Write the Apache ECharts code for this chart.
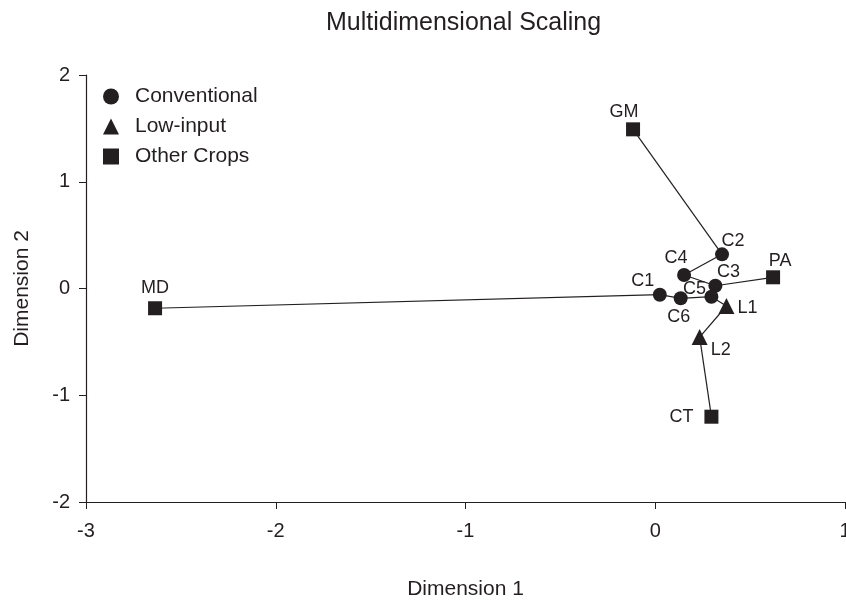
<!DOCTYPE html>
<html>
<head>
<meta charset="utf-8">
<script src="https://cdn.jsdelivr.net/npm/echarts@6/dist/echarts.min.js"></script>
<style>
  html, body { margin: 0; padding: 0; background: #fff; }
  #main { width: 846px; height: 602px; }
</style>
</head>
<body>
<div id="main"></div>
<script>
// point names, coordinates and group
var names  = ['GM', 'MD', 'PA', 'CT', 'C1', 'C2', 'C3', 'C4', 'C5', 'C6', 'L1', 'L2'];
var dim1   = [-0.117, -2.636, 0.621, 0.296, 0.024, 0.352, 0.317, 0.152, 0.296, 0.134, 0.375, 0.234];
var dim2   = [1.491, -0.185, 0.105, -1.201, -0.058, 0.320, 0.026, 0.126, -0.077, -0.092, -0.164, -0.455];
var groups = ['Other Crops', 'Other Crops', 'Other Crops', 'Other Crops',
              'Conventional', 'Conventional', 'Conventional', 'Conventional', 'Conventional', 'Conventional',
              'Low-input', 'Low-input'];
// links drawn between points
var edges = [['GM','C2'], ['C2','C4'], ['C4','C3'], ['C3','PA'], ['C3','C5'],
             ['MD','C1'], ['C1','C6'], ['C6','C5'], ['C5','L1'], ['L1','L2'], ['L2','CT']];
var groupNames = ['Conventional', 'Low-input', 'Other Crops'];
var xTicks = [-3, -2, -1, 0, 1];
var yTicks = [-2, -1, 0, 1, 2];

var ink = '#231f20';
var font = 'Liberation Sans, Arial, Helvetica, sans-serif';
var symbols = {'Conventional': 'circle', 'Low-input': 'triangle', 'Other Crops': 'rect'};
var symSize = {'Conventional': 14, 'Low-input': 16, 'Other Crops': 14};
// label offsets around each point
var labelOff = {
  GM: [-9, -17], MD: [0, -20], PA: [7, -16], CT: [-30, 0],
  C1: [-17, -14], C2: [11, -13], C3: [13, -14], C4: [-8, -17],
  C5: [-17, -8], C6: [-2, 19], L1: [21, 2], L2: [21, 13]
};

var idx = {};
names.forEach(function (n, i) { idx[n] = i; });

var lineData = edges.map(function (e) {
  var a = idx[e[0]], b = idx[e[1]];
  return { coords: [[dim1[a], dim2[a]], [dim1[b], dim2[b]]] };
});

var series = [{
  type: 'lines',
  coordinateSystem: 'cartesian2d',
  silent: true,
  z: 1,
  lineStyle: { color: ink, width: 1.2, opacity: 1 },
  data: lineData
}];

groupNames.forEach(function (g) {
  var pts = [];
  names.forEach(function (n, i) {
    if (groups[i] !== g) return;
    pts.push({
      value: [dim1[i], dim2[i]],
      name: n,
      label: { offset: labelOff[n] }
    });
  });
  series.push({
    name: g,
    type: 'scatter',
    z: 3,
    symbol: symbols[g],
    symbolSize: symSize[g],
    itemStyle: { color: ink, opacity: 1 },
    label: {
      show: true,
      position: 'inside',
      formatter: '{b}',
      color: ink,
      fontSize: 18,
      fontFamily: font
    },
    data: pts
  });
});

var chart = echarts.init(document.getElementById('main'));
chart.setOption({
  animation: false,
  title: {
    text: 'Multidimensional Scaling',
    left: 321,
    top: 6,
    textStyle: { fontSize: 25, fontWeight: 'normal', color: ink, fontFamily: font }
  },
  legend: {
    orient: 'vertical',
    left: 98,
    top: 81,
    itemGap: 9,
    itemWidth: 16,
    itemHeight: 16,
    data: groupNames.map(function (g) { return { name: g, icon: symbols[g] }; }),
    textStyle: { fontSize: 21, color: ink, fontFamily: font, padding: [0, 0, 0, 11] },
    itemStyle: { color: ink }
  },
  grid: { left: 86, right: 1, top: 75, bottom: 100, outerBoundsMode: 'none' },
  xAxis: {
    type: 'value',
    min: xTicks[0],
    max: xTicks[xTicks.length - 1],
    interval: 1,
    name: 'Dimension 1',
    nameLocation: 'middle',
    nameGap: 77,
    nameTextStyle: { fontSize: 21, color: ink, fontFamily: font },
    axisLine: { show: true, onZero: false, lineStyle: { color: ink, width: 1.2 } },
    axisTick: { show: true, inside: false, length: 7, lineStyle: { color: ink } },
    axisLabel: { fontSize: 20, color: ink, fontFamily: font, margin: 19 },
    splitLine: { show: false }
  },
  yAxis: {
    type: 'value',
    min: yTicks[0],
    max: yTicks[yTicks.length - 1],
    interval: 1,
    name: 'Dimension 2',
    nameLocation: 'middle',
    nameGap: 53,
    nameTextStyle: { fontSize: 21, color: ink, fontFamily: font },
    axisLine: { show: true, onZero: false, lineStyle: { color: ink, width: 1.2 } },
    axisTick: { show: true, inside: false, length: 7, lineStyle: { color: ink } },
    axisLabel: { fontSize: 20, color: ink, fontFamily: font, margin: 16 },
    splitLine: { show: false }
  },
  series: series
});
</script>
</body>
</html>
